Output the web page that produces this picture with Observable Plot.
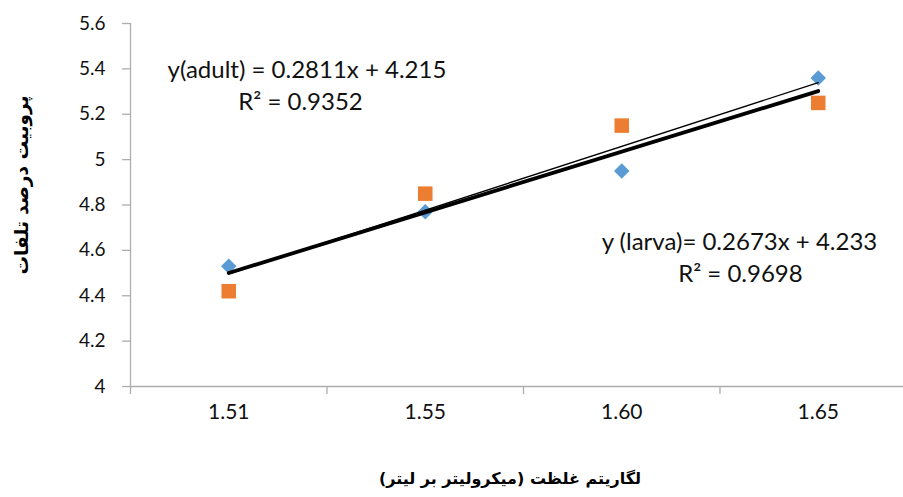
<!DOCTYPE html>
<html>
<head>
<meta charset="utf-8">
<script src="https://cdn.jsdelivr.net/npm/d3@7"></script>
<script src="https://cdn.jsdelivr.net/npm/@observablehq/plot@0.6"></script>
<style>
  html, body { margin: 0; padding: 0; background: #fff; }
  #chart svg { display: block; }
</style>
</head>
<body>
<div id="chart"></div>
<script>
// ---- data ----
const categories = ["1.51", "1.55", "1.60", "1.65"];
const adultValues = [4.53, 4.77, 4.95, 5.36];   // blue diamonds
const larvaValues = [4.42, 4.85, 5.15, 5.25];   // orange squares
const yTicks = [4, 4.2, 4.4, 4.6, 4.8, 5, 5.2, 5.4, 5.6];
const trendNames = ["thin", "thick"];
const trendSlopes = [0.2811, 0.2673];
const trendIntercepts = [4.215, 4.233];
const eqLines = ["y(adult) = 0.2811x + 4.215", "R² = 0.9352", "y (larva)= 0.2673x + 4.233", "R² = 0.9698"];
const eqX = [1.398, 1.365, 3.599, 3.604];
const eqY = [5.395, 5.254, 4.636, 4.494];
const yTitle = "پروبیت درصد تلفات";
const xTitle = "لگاریتم غلظت (میکرولیتر بر لیتر)";

// ---- derived tables ----
const idx = categories.map((c, i) => i + 1);
const adult = idx.map((x, i) => ({x, y: adultValues[i]}));
const larva = idx.map((x, i) => ({x, y: larvaValues[i]}));
const trend = (k) => [idx[0], idx[idx.length - 1]].map(x => ({x, y: trendSlopes[k] * x + trendIntercepts[k]}));
const eqs = eqLines.map((t, i) => ({t, x: eqX[i], y: eqY[i]}));
const boundaries = idx.map(x => x - 0.5);

const axisGray = "#ADADAD";
const tickFont = "Lato, 'Open Sans', sans-serif";

const chart = Plot.plot({
  width: 903,
  height: 497,
  marginLeft: 130,
  marginRight: 0,
  marginTop: 23,
  marginBottom: 111,
  style: {background: "#fff", fontFamily: tickFont},
  x: {domain: [0.5, idx.length + 0.5], range: [130, 130 + 196.5 * idx.length]},
  y: {domain: [4, 5.6]},
  marks: [
    // axes lines
    Plot.ruleY([4], {stroke: axisGray, strokeWidth: 1.3}),
    Plot.ruleX([0.5], {y1: 4, y2: 5.6, stroke: axisGray, strokeWidth: 1.3}),
    Plot.axisY({ticks: yTicks, tickSize: 8, tickPadding: 17, stroke: axisGray, strokeWidth: 1.3,
      tickFormat: d => String(d), fontSize: 19, fill: "#111", label: null}),
    Plot.axisX({ticks: boundaries, tickSize: 8, tickFormat: () => "", stroke: axisGray, strokeWidth: 1.3, label: null}),
    Plot.axisX({ticks: idx, tickSize: 0, tickPadding: 18, tickFormat: d => categories[d - 1],
      fontSize: 21, fill: "#111", label: null}),
    // points
    Plot.dot(larva, {x: "x", y: "y", symbol: "square", r: 8.2, fill: "#ED7D31", stroke: "none"}),
    Plot.dot(adult, {x: "x", y: "y", symbol: "diamond2", r: 7, fill: "#5B9BD5", stroke: "none"}),
    // trendlines
    Plot.line(trend(0), {x: "x", y: "y", stroke: "#000", strokeWidth: 1.4}),
    Plot.line(trend(1), {x: "x", y: "y", stroke: "#000", strokeWidth: 3.8}),
    // equations
    Plot.text(eqs, {x: "x", y: "y", text: "t", fontSize: 24, fill: "#111", textAnchor: "middle", lineAnchor: "middle"}),
    // axis titles
    Plot.text([yTitle], {frameAnchor: "left", textAnchor: "middle", lineAnchor: "middle", rotate: -90, dx: -108, dy: -20,
      fontSize: 18.5, fontWeight: "bold", fontFamily: "'DejaVu Sans', sans-serif", fill: "#000"}),
    Plot.text([xTitle], {frameAnchor: "bottom", textAnchor: "middle", lineAnchor: "middle", dx: -7, dy: 92,
      fontSize: 16, fontWeight: "bold", fontFamily: "'DejaVu Sans', sans-serif", fill: "#000"})
  ]
});
document.getElementById("chart").appendChild(chart);
</script>
</body>
</html>
